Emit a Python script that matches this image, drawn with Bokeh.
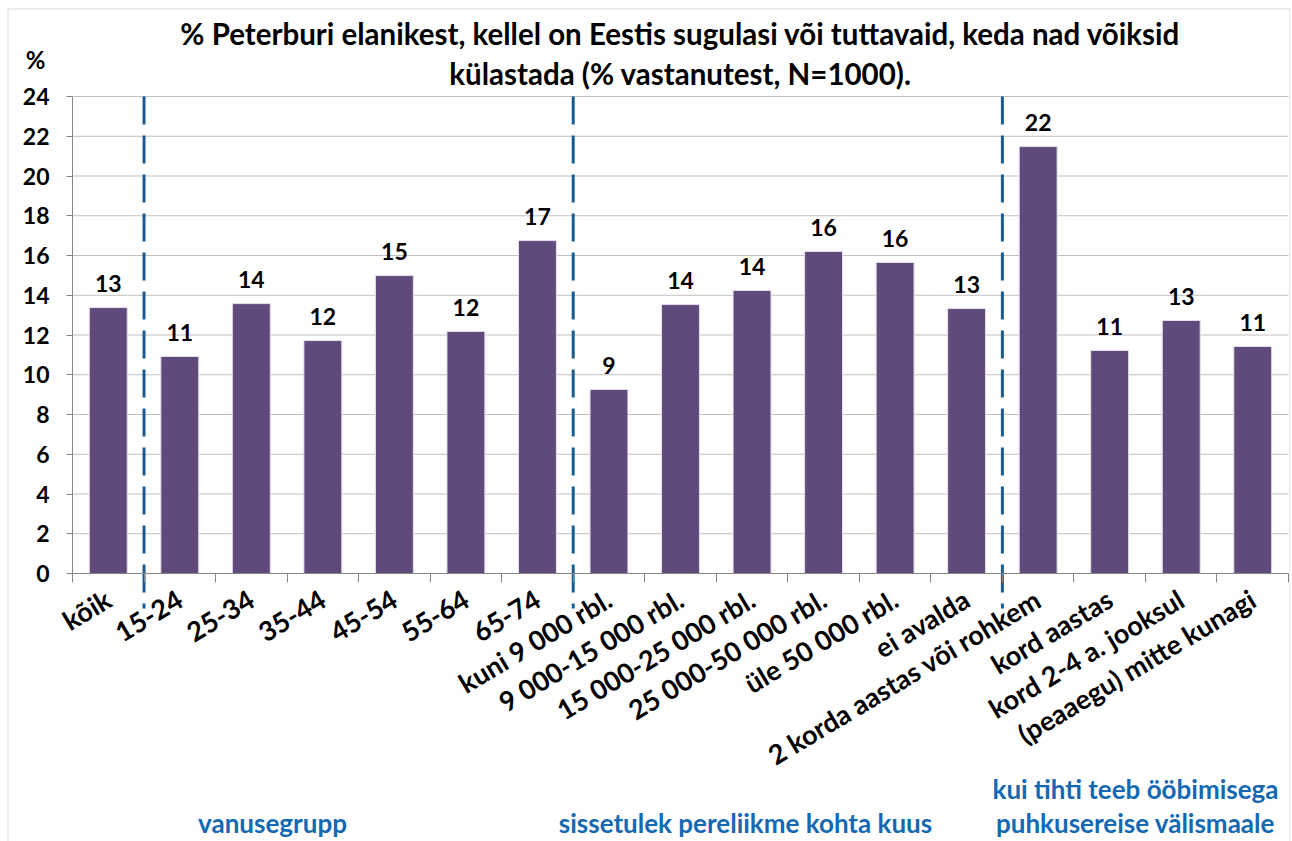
from bokeh.plotting import figure
from bokeh.models import ColumnDataSource, FixedTicker, Range1d
from bokeh.embed import file_html
from bokeh.resources import INLINE
from bokeh.core.properties import value

# ---------------- data ----------------
categories = ["kõik", "15-24", "25-34", "35-44", "45-54", "55-64", "65-74",
              "kuni 9 000 rbl.", "9 000-15 000 rbl.", "15 000-25 000 rbl.",
              "25 000-50 000 rbl.", "üle 50 000 rbl.", "ei avalda",
              "2 korda aastas või rohkem", "kord aastas", "kord 2-4 a. jooksul",
              "(peaaegu) mitte kunagi"]
values = [13.38, 10.92, 13.58, 11.72, 14.99, 12.18, 16.75,
          9.26, 13.53, 14.24, 16.20, 15.65, 13.33,
          21.48, 11.22, 12.73, 11.42]
value_labels = ["13", "11", "14", "12", "15", "12", "17",
                "9", "14", "14", "16", "16", "13",
                "22", "11", "13", "11"]
group_sizes = [1, 6, 6, 4]          # 'kõik' + three groups
group_titles = [["vanusegrupp"],
                ["sissetulek pereliikme kohta kuus"],
                ["kui tihti teeb ööbimisega", "puhkusereise välismaale"]]
y_ticks = [0, 2, 4, 6, 8, 10, 12, 14, 16, 18, 20, 22, 24]
title_lines = ["% Peterburi elanikest, kellel on Eestis sugulasi või tuttavaid, keda nad võiksid",
               "külastada (% vastanutest, N=1000)."]
y_unit = "%"

# ---------------- style / layout ----------------
FONT = value("Lato")
BAR = "#604A7B"
DASH = "#1A5C8F"
GROUP_BLUE = "#1569B3"
AXIS = "#868686"
GRID = "#C0C0C0"
BORDER = "#D9D9D9"

W, H = 1290, 841
X0, CW = 72.0, 71.53      # page x of first category boundary, px per category
Y0, YS = 573.0, 19.875    # page y of value 0, px per unit


def px(x):
    return -0.5 + (x - X0) / CW


def py(y):
    return (Y0 - y) / YS


n = len(categories)
xs = list(range(n))

p = figure(width=W, height=H, output_backend="svg", toolbar_location=None,
           x_range=Range1d(px(0), px(W)), y_range=Range1d(py(H), py(0)),
           min_border=0, outline_line_color=None,
           background_fill_color="white", border_fill_color="white")
p.xgrid.visible = False
p.ygrid.visible = False

# outer chart border
p.segment(x0=[px(7.5), px(7.5), px(1289.5)], x1=[px(1289.5), px(7.5), px(1289.5)],
          y0=[py(8.5), py(8.5), py(8.5)], y1=[py(8.5), py(H), py(H)],
          line_color=BORDER, line_width=1)

# horizontal grid lines
gt = [t for t in y_ticks if t > 0]
p.segment(x0=[-0.5] * len(gt), x1=[n - 0.5] * len(gt), y0=gt, y1=gt,
          line_color=GRID, line_width=1)

src = ColumnDataSource(dict(x=xs, top=values, lab=value_labels))
p.vbar(x="x", top="top", width=0.53, source=src, fill_color=BAR,
       line_color="#E4DEEC", line_width=1)

p.text(x="x", y="top", text="lab", source=src, y_offset=-24,
       text_align="center", text_baseline="middle",
       text_font=FONT, text_font_style="bold", text_font_size="23px",
       text_color="black")

# y axis (fixed in frame at first category boundary)
p.yaxis.fixed_location = -0.5
p.yaxis.bounds = (0, 24)
p.yaxis.ticker = FixedTicker(ticks=y_ticks)
p.yaxis.axis_line_color = AXIS
p.yaxis.major_tick_line_color = AXIS
p.yaxis.major_tick_out = 6
p.yaxis.major_tick_in = 0
p.yaxis.minor_tick_line_color = None
p.yaxis.major_label_standoff = 17
p.yaxis.major_label_text_font = "Lato"
p.yaxis.major_label_text_font_style = "bold"
p.yaxis.major_label_text_font_size = "23px"
p.yaxis.major_label_text_color = "black"

# x axis: labels at centres, tick marks at boundaries
p.xaxis.fixed_location = 0
p.xaxis.bounds = (-0.5, n - 0.5)
p.xaxis.ticker = FixedTicker(ticks=xs, minor_ticks=[i - 0.5 for i in range(n + 1)])
p.xaxis.major_label_overrides = {i: c for i, c in zip(xs, categories)}
p.xaxis.major_label_orientation = 0.54
p.xaxis.major_tick_out = 0
p.xaxis.major_tick_in = 0
p.xaxis.minor_tick_out = 9
p.xaxis.minor_tick_in = 0
p.xaxis.minor_tick_line_color = AXIS
p.xaxis.axis_line_color = AXIS
p.xaxis.major_label_standoff = 14
p.xaxis.major_label_text_font = "Lato"
p.xaxis.major_label_text_font_style = "bold"
p.xaxis.major_label_text_font_size = "27px"
p.xaxis.major_label_text_color = "black"

# dashed group separators
bounds = []
acc = 0
for s in group_sizes[:-1]:
    acc += s
    bounds.append(acc - 0.5)
p.segment(x0=bounds, x1=bounds, y0=[24] * len(bounds), y1=[py(608)] * len(bounds),
          line_color=DASH, line_width=3, line_dash="28 11")

# title and unit
p.text(x=[px(680)] * 2, y=[py(33), py(73)], text=title_lines,
       text_align="center", text_baseline="middle", text_font=FONT,
       text_font_style="bold", text_font_size="29.5px", text_color="black")
p.text(x=[px(35)], y=[py(59)], text=[y_unit], text_align="center",
       text_baseline="middle", text_font=FONT, text_font_style="bold",
       text_font_size="24px", text_color="black")

# group titles
group_cx = [272, 745, 1135]
gx, gy, gtxt = [], [], []
for lines, cx in zip(group_titles, group_cx):
    for k, line in enumerate(reversed(lines)):
        gx.append(px(cx))
        gy.append(py(822 - k * 34))
        gtxt.append(line)
p.text(x=gx, y=gy, text=gtxt, text_align="center", text_baseline="middle",
       text_font=FONT, text_font_style="bold", text_font_size="26px",
       text_color=GROUP_BLUE)

open("out.html", "w").write(file_html(p, INLINE))
